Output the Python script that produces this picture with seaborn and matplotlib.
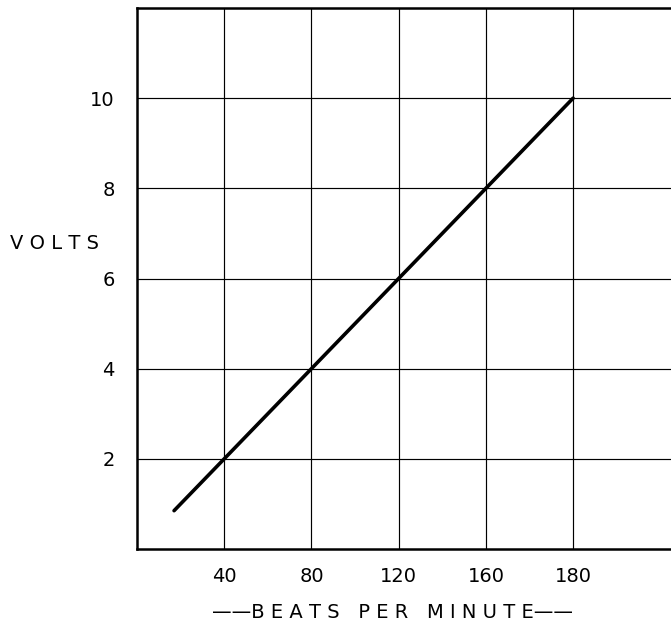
import matplotlib
matplotlib.use("Agg")
import matplotlib.pyplot as plt
import seaborn as sns
import pandas as pd

# values
bpm = [17, 200]
volts = [0.85, 10]
x_ticks = [40, 80, 120, 160, 200]
x_tick_labels = ["40", "80", "120", "160", "180"]
y_ticks = [2, 4, 6, 8, 10]
y_tick_labels = ["2", "4", "6", "8", "10"]

df = pd.DataFrame({"bpm": bpm, "volts": volts})

sns.set_style("white")
plt.rcParams["font.family"] = ["DejaVu Sans"]

fig = plt.figure(figsize=(6.71, 6.32), dpi=100)
ax = fig.add_axes([137 / 671, 1 - 549 / 632, 1 - 137 / 671 + 0.002, (549 - 8) / 632])

sns.lineplot(data=df, x="bpm", y="volts", ax=ax, color="black", linewidth=2.6,
             solid_capstyle="round")

ax.set_xlim(0, 245.5)
ax.set_ylim(0, 12)
ax.set_xticks(x_ticks)
ax.set_xticklabels(x_tick_labels)
ax.set_yticks(y_ticks)
ax.set_yticklabels(y_tick_labels)
ax.tick_params(length=0, labelsize=14, colors="black")
ax.tick_params(axis="x", pad=13)
ax.tick_params(axis="y", pad=16)
ax.grid(True, color="black", linewidth=0.85)
ax.set_axisbelow(True)

for side in ["left", "top", "bottom"]:
    ax.spines[side].set_color("black")
    ax.spines[side].set_linewidth(1.8)
ax.spines["right"].set_visible(False)

ax.set_xlabel("")
ax.set_ylabel("")
fig.text(393 / 671, 1 - 613 / 632, "\u2014\u2014B E A T S   P E R   M I N U T E\u2014\u2014",
         ha="center", va="center", fontsize=14, color="black")
fig.text(55 / 671, 1 - 243 / 632, "V O L T S", ha="center", va="center",
         fontsize=14, color="black")

fig.savefig("out.png", dpi=100)
